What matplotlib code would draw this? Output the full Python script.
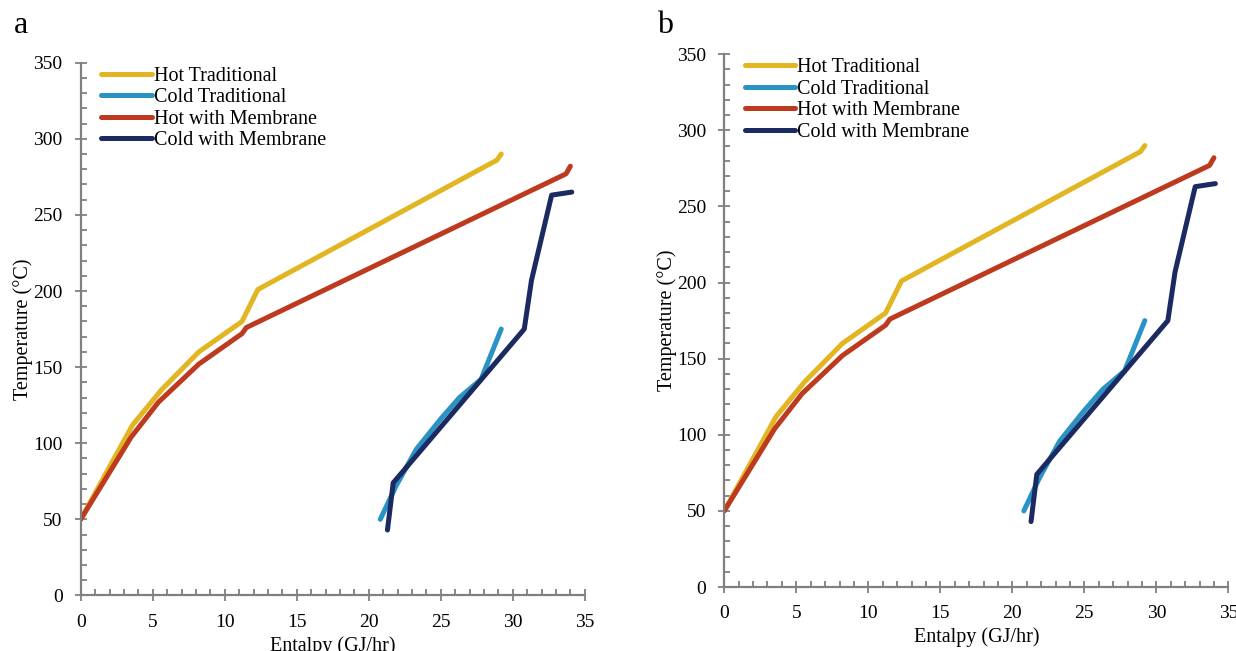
import matplotlib.pyplot as plt
from matplotlib.ticker import MultipleLocator

# --- Data ---
hot_trad_h = [0, 3.6, 5.6, 8.2, 11.2, 12.3, 28.9, 29.2]
hot_trad_t = [50, 112, 135, 160, 180, 201, 286, 290]

cold_trad_h = [20.8, 21.9, 23.3, 25.0, 26.3, 27.8, 29.2]
cold_trad_t = [50, 72, 96, 116, 130, 142, 175]

hot_mem_h = [0, 3.5, 5.4, 8.2, 11.2, 11.5, 33.7, 34.0]
hot_mem_t = [50, 104, 127, 152, 172, 176, 277, 282]

cold_mem_h = [21.3, 21.7, 30.8, 31.3, 32.7, 34.1]
cold_mem_t = [43, 74, 175, 207, 263, 265]

SERIES = [
    ("Hot Traditional", hot_trad_h, hot_trad_t, '#E2B522'),
    ("Cold Traditional", cold_trad_h, cold_trad_t, '#2A93C5'),
    ("Hot with Membrane", hot_mem_h, hot_mem_t, '#BE3A1F'),
    ("Cold with Membrane", cold_mem_h, cold_mem_t, '#1C2A62'),
]

AXIS_GRAY = '#808080'

plt.rcParams['font.family'] = ['Liberation Serif', 'DejaVu Serif']


def draw_panel(ax):
    for name, h, t, c in SERIES:
        ax.plot(h, t, color=c, lw=3.6, label=name,
                solid_capstyle='round', solid_joinstyle='round')
    ax.set_xlim(0, 35)
    ax.set_ylim(0, 350)
    ax.xaxis.set_major_locator(MultipleLocator(5))
    ax.xaxis.set_minor_locator(MultipleLocator(1))
    ax.yaxis.set_major_locator(MultipleLocator(50))
    ax.yaxis.set_minor_locator(MultipleLocator(10))
    for s in ['top', 'right']:
        ax.spines[s].set_visible(False)
    for s in ['left', 'bottom']:
        ax.spines[s].set_color(AXIS_GRAY)
        ax.spines[s].set_linewidth(1.6)
    ax.tick_params(which='major', direction='inout', length=8, width=1.3,
                   color=AXIS_GRAY, labelsize=14, pad=9)
    ax.tick_params(which='minor', direction='in', length=4, width=1.3,
                   color=AXIS_GRAY)
    ax.set_xlabel("Entalpy (GJ/hr)", fontsize=14.5, labelpad=4)
    ax.set_ylabel("Temperature (°C)", fontsize=14.5, labelpad=0)
    ax.legend(loc='upper left', frameon=False, fontsize=14.5,
              handlelength=2.5, handletextpad=0.1, labelspacing=0.12,
              borderaxespad=0.0, bbox_to_anchor=(0.025, 1.008))


fig = plt.figure(figsize=(12.36, 6.51), dpi=100)
ax_a = fig.add_axes([0.0653, 0.0853, 0.4078, 0.8184])
ax_b = fig.add_axes([0.5860, 0.0983, 0.4078, 0.8184])
draw_panel(ax_a)
draw_panel(ax_b)

fig.text(0.0113, 0.949, 'a', fontsize=23, ha='left', va='baseline')
fig.text(0.5316, 0.949, 'b', fontsize=23, ha='left', va='baseline')

fig.savefig('out.png', dpi=100)
